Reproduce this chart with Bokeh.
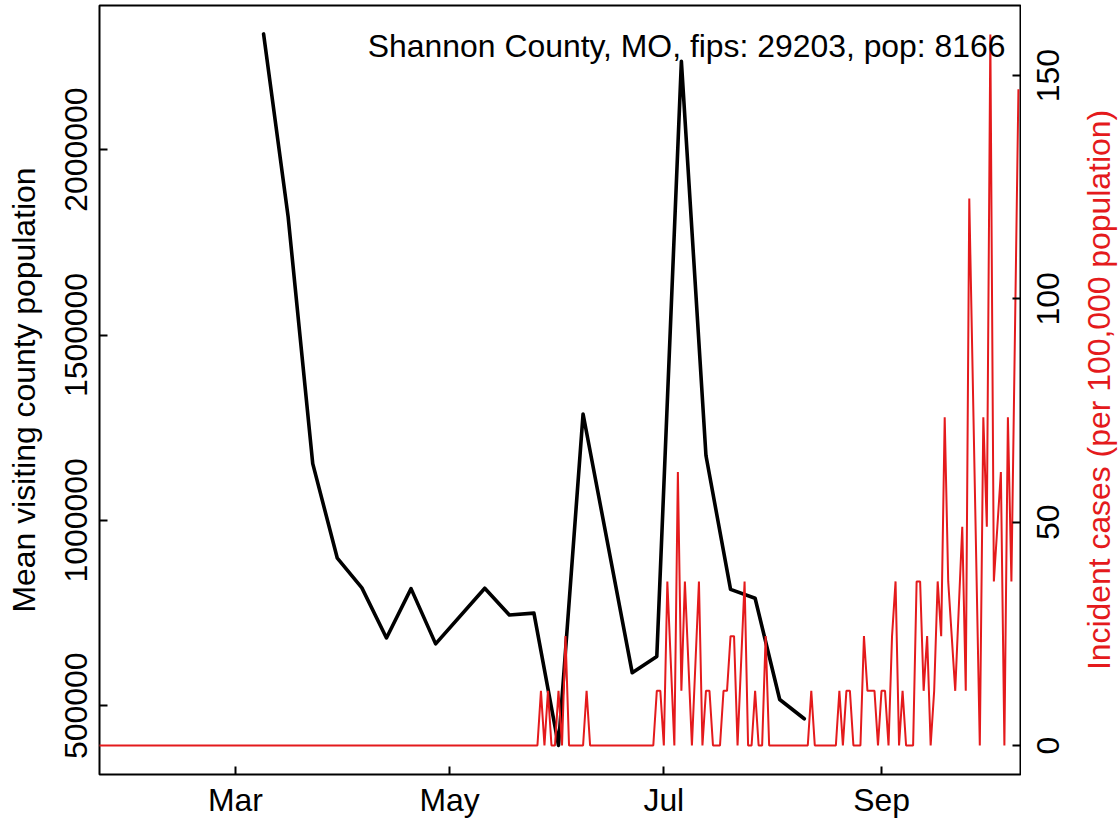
import math
import pandas as pd
from bokeh.plotting import figure
from bokeh.layouts import row
from bokeh.models import (Range1d, LinearAxis, FixedTicker, NumeralTickFormatter,
                          DatetimeTickFormatter, CustomJSTickFormatter, Label)
from bokeh.core.properties import value
from bokeh.embed import file_html
from bokeh.resources import INLINE

FONT = "Liberation Sans"
FS = "31.9px"
RED = "#E41A1C"

# ---------------- data ----------------
county_label = "Shannon County, MO, fips: 29203, pop: 8166"
population = 8166

visit_dates = ["2020-03-09", "2020-03-16", "2020-03-23", "2020-03-30", "2020-04-06",
               "2020-04-13", "2020-04-20", "2020-04-27", "2020-05-11", "2020-05-18",
               "2020-05-25", "2020-06-01", "2020-06-08", "2020-06-22", "2020-06-29",
               "2020-07-06", "2020-07-13", "2020-07-20", "2020-07-27", "2020-08-03",
               "2020-08-10"]
visit_mean_pop = [2312000, 1818000, 1153000, 898000, 818000,
                  683000, 816000, 667000, 817000, 745000,
                  750000, 393000, 1287000, 589000, 633000,
                  2238000, 1175000, 814000, 790000, 517000,
                  465000]

# daily incident case counts from 2020-01-22 (None = day not in the series)
case_first_day = "2020-01-22"
case_counts = [
    # Jan 22-31
    0, 0, 0, 0, 0, 0, 0, 0, 0, 0,
    # Feb
    0, 0, 0, 0, 0, 0, 0, 0, 0, 0, 0, 0, 0, 0, 0, 0, 0, 0, 0, 0, 0, 0, 0, 0, 0, 0, 0, 0, 0,
    # Mar
    0, 0, 0, 0, 0, 0, 0, 0, 0, 0, 0, 0, 0, 0, 0, 0, 0, 0, 0, 0, 0, 0, 0, 0, 0, 0, 0, 0, 0, 0, 0,
    # Apr
    0, 0, 0, 0, 0, 0, 0, 0, 0, 0, 0, 0, 0, 0, 0, 0, 0, 0, 0, 0, 0, 0, 0, 0, 0, 0, 0, 0, 0, 0,
    # May
    0, 0, 0, 0, 0, 0, 0, 0, 0, 0, 0, 0, 0, 0, 0, 0, 0, 0, 0, 0, 0, 0, 0, 0, 0, 0, 1, 0, 1, 0, 0,
    # Jun
    1, 0, 2, 0, 0, 0, 0, 0, 1, 0, 0, 0, 0, 0, 0, 0, 0, 0, 0, 0, 0, 0, 0, 0, 0, 0, 0, 0, 1, 1,
    # Jul
    0, 3, None, 0, 5, 1, 3, None, 0, None, 3, 0, 1, 1, 0, 0, 0, 1, 1, 2, 2, 0, None, 3, 0, 0, 1, 0, 0, 2, 0,
    # Aug
    0, 0, 0, 0, 0, 0, 0, 0, 0, 0, 0, 1, 0, 0, 0, 0, 0, 0, 0, 1, 0, 1, 1, 0, 0, 0, 2, 1, 1, 1, 0,
    # Sep
    1, 1, 0, 2, 3, 0, 1, 0, 0, 0, 3, 3, 1, 2, 0, 1, 3, 2, 6, 3, 2, 1, None, 4, 1, 10, None, None, 0, 6,
    # Oct 1-10
    4, 13, 3, 4, 5, 0, 6, 3, None, 12,
]

month_ticks = ["2020-03-01", "2020-05-01", "2020-07-01", "2020-09-01"]
month_labels = ["Mar", "May", "Jul", "Sep"]

left_ticks = [500000, 1000000, 1500000, 2000000]
right_ticks = [0, 50, 100, 150]
left_title = "Mean visiting county population"
right_title = "Incident cases (per 100,000 population)"

# ---------------- derived ----------------
DAY = 86400000.0
def ms(s):
    return pd.Timestamp(s).value / 1e6

all_days = pd.date_range(case_first_day, periods=len(case_counts), freq="D")
case_x = [d for d, c in zip(all_days, case_counts) if c is not None]
case_y = [c * 1e5 / population for c in case_counts if c is not None]
visit_x = pd.to_datetime(visit_dates)

base = ms("2020-03-01")
def page_x_to_ms(px):
    return base + (px - 235.0) / 3.5109 * DAY

CASES_RANGE = (-6.49, 165.69)

# ---------------- main figure ----------------
p = figure(width=1021, height=820, x_axis_type="datetime",
           output_backend="svg", toolbar_location=None,
           x_range=Range1d(page_x_to_ms(99), page_x_to_ms(1020)),
           y_range=Range1d(314723, 2388639),
           min_border_left=99, min_border_right=1,
           min_border_top=5, min_border_bottom=46)
p.extra_y_ranges = {"cases": Range1d(*CASES_RANGE)}

p.xgrid.visible = False
p.ygrid.visible = False
p.background_fill_color = "white"
p.border_fill_color = "white"
p.outline_line_color = "black"
p.outline_line_width = 2

p.line(visit_x, visit_mean_pop, line_color="black", line_width=3.6,
       line_join="round", line_cap="round")
p.line(case_x, case_y, line_color=RED, line_width=2, y_range_name="cases")

def style_axis(ax):
    ax.axis_line_color = None
    ax.major_tick_in = 8
    ax.major_tick_out = 0
    ax.major_tick_line_color = "black"
    ax.major_tick_line_width = 2
    ax.minor_tick_line_color = None
    ax.major_label_text_font = FONT
    ax.major_label_text_font_size = FS
    ax.major_label_text_color = "black"
    ax.axis_label_text_font = FONT
    ax.axis_label_text_font_size = FS
    ax.axis_label_text_font_style = "normal"
    ax.axis_label_text_color = "black"

xa = p.xaxis[0]
style_axis(xa)
xa.ticker = FixedTicker(ticks=[ms(t) for t in month_ticks])
xa.formatter = DatetimeTickFormatter(days="%b", months="%b", years="%b")
xa.major_label_overrides = {ms(t): lab for t, lab in zip(month_ticks, month_labels)}
xa.major_label_standoff = 7

ya = p.yaxis[0]
style_axis(ya)
ya.ticker = FixedTicker(ticks=left_ticks)
ya.formatter = NumeralTickFormatter(format="0")
ya.major_label_orientation = "parallel"
ya.major_label_standoff = 12
ya.axis_label = left_title
ya.axis_label_standoff = 21

# right axis: ticks only (its texts, reading bottom-to-top, are in the side panel)
ra = LinearAxis(y_range_name="cases", ticker=FixedTicker(ticks=right_ticks),
                formatter=CustomJSTickFormatter(code="return ''"))
style_axis(ra)
ra.major_label_text_color = None
ra.major_label_standoff = 0
p.add_layout(ra, "right")

p.add_layout(Label(x=page_x_to_ms(1005), y=2280763, text=county_label,
                   text_align="right", text_baseline="middle",
                   text_font=FONT, text_font_size=FS, text_color="black"))

# ---------------- right side panel for rotated texts ----------------
side = figure(width=98, height=820, output_backend="svg", toolbar_location=None,
              x_range=Range1d(1021, 1119), y_range=Range1d(*CASES_RANGE),
              min_border_left=0, min_border_right=0,
              min_border_top=5, min_border_bottom=46)
side.axis.visible = False
side.xgrid.visible = False
side.ygrid.visible = False
side.outline_line_color = None
side.background_fill_color = "white"
side.border_fill_color = "white"

side.text(x=[1047.2] * len(right_ticks), y=right_ticks, text=[str(v) for v in right_ticks],
          angle=math.pi / 2, text_align="center", text_baseline="middle",
          text_font=value(FONT), text_font_size=value(FS), text_color="black")
side.text(x=[1098.4], y=[(CASES_RANGE[0] + CASES_RANGE[1]) / 2], text=[right_title],
          angle=math.pi / 2, text_align="center", text_baseline="middle",
          text_font=value(FONT), text_font_size=value(FS), text_color=RED)

layout = row(p, side, spacing=0)
open("out.html", "w").write(file_html(layout, INLINE))
